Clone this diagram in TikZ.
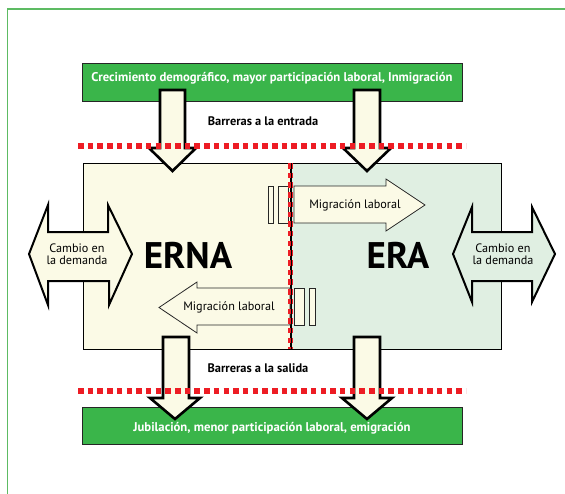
\documentclass[tikz,border=0pt]{standalone}
\usepackage{fontspec}
\setmainfont{PT Sans}
\definecolor{framegreen}{HTML}{5DBB63}
\definecolor{boxgreen}{HTML}{3AB54A}
\definecolor{lightyel}{HTML}{FBFAE6}
\definecolor{lightgrn}{HTML}{E0EFE2}
\definecolor{barred}{HTML}{ED1C24}
\tikzset{
  greenbox/.style={fill=boxgreen, draw=black!85, line width=1pt},
  greentext/.style={text=white, font=\bfseries\fontsize{12.7}{14}\selectfont},
  region/.style={draw=black, line width=1.4pt},
  bigarrow/.style={fill=lightyel, draw=black, line width=2.6pt, line join=miter},
  dblarrow/.style={draw=black, line width=2pt, line join=miter},
  migarrow/.style={fill=lightyel, draw=black!85, line width=0.8pt},
  redbar/.style={draw=barred, line width=6pt, dash pattern=on 5.5pt off 4.2pt},
  label/.style={font=\bfseries\fontsize{12.4}{14}\selectfont},
  small/.style={font=\fontsize{12.2}{13}\selectfont, align=center},
  big/.style={font=\bfseries\fontsize{37}{38}\selectfont}
}
\begin{document}
\begin{tikzpicture}[x=1pt,y=-1pt]
\useasboundingbox (0,0) rectangle (565,493);
\clip (0,0) rectangle (565,493);
\fill[white] (0,0) rectangle (565,493);
% frame
\draw[framegreen, line width=1.6pt] (7.5,600) -- (7.5,9) -- (700,9);
% regions
\node[region, fill=lightyel, minimum width=207pt, minimum height=186pt, inner sep=0pt, anchor=north west] (erna) at (83,163) {};
\node[region, fill=lightgrn, minimum width=211pt, minimum height=186pt, inner sep=0pt, anchor=north west] (era) at (290,163) {};
% green boxes
\node[greenbox, minimum width=380pt, minimum height=38pt, inner sep=0pt, anchor=north west] (top) at (82,63) {};
\node[greentext] (toptext) at (272,78) {Crecimiento demográfico, mayor participación laboral, Inmigración};
\node[greenbox, minimum width=380pt, minimum height=37pt, inner sep=0pt, anchor=north west] (bot) at (82,407) {};
\node[greentext] (bottext) at (272,428) {Jubilación, menor participación laboral, emigración};
% double arrows
\draw[dblarrow, fill=lightyel] (29,254) -- (48,205) -- (48,232) -- (108,232) -- (108,205) -- (132,254) -- (109,305) -- (109,281) -- (48,281) -- (48,305) -- cycle;
\node[small] (cdl) at (77,254) {Cambio en\\[-1pt]la demanda};
\draw[dblarrow, fill=lightgrn] (453,254) -- (472,207) -- (472,232) -- (532,232) -- (532,207) -- (555,254) -- (532,302) -- (532,281) -- (472,281) -- (472,302) -- cycle;
\node[small] (cdr) at (503,254) {Cambio en\\[-1pt]la demanda};
% big labels
\node[big] (ernat) at (188,255) {ERNA};
\node[big] (erat) at (398,255) {ERA};
% migration arrows
\draw[migarrow] (268,186) rectangle (273,223);
\draw[migarrow] (278,186) rectangle (288,223);
\draw[migarrow] (294,186) -- (386,186) -- (386,179) -- (425,205) -- (386,231) -- (386,223) -- (294,223) -- cycle;
\node[small] (migr) at (355,205) {Migración laboral};
\draw[migarrow] (290,288) -- (197,288) -- (197,282) -- (159,307.5) -- (197,333) -- (197,325) -- (290,325) -- cycle;
\draw[migarrow] (294,288) rectangle (304,325);
\draw[migarrow] (309,288) rectangle (315,325);
\node[small] (migl) at (229,307) {Migración laboral};
% down arrows
\draw[bigarrow] (160,90) -- (185,90) -- (185,148) -- (196,148) -- (172.5,171) -- (149,148) -- (160,148) -- cycle;
\draw[bigarrow] (354,90) -- (380,90) -- (380,148) -- (391,148) -- (367,171) -- (343,148) -- (354,148) -- cycle;
\draw[bigarrow] (163,337) -- (189,337) -- (189,398) -- (200,398) -- (175,419) -- (150,398) -- (163,398) -- cycle;
\draw[bigarrow] (354,337) -- (380,337) -- (380,398) -- (392,398) -- (367,419) -- (342,398) -- (354,398) -- cycle;
% barrier labels
\node[label] (bin) at (263,121) {Barreras a la entrada};
\node[label] (bout) at (258,368) {Barreras a la salida};
% red barrier lines
\coordinate (r1a) at (78,146); \coordinate (r1b) at (466,146);
\coordinate (r2a) at (78,391); \coordinate (r2b) at (466,391);
\coordinate (rva) at (290,163); \coordinate (rvb) at (290,349);
\draw[redbar] (r1a) -- (r1b);
\draw[redbar] (r2a) -- (r2b);
\draw[redbar, line width=5pt] (rva) -- (rvb);
\draw[black, line width=0.9pt] (291,163) -- (291,349);
\end{tikzpicture}
\end{document}
